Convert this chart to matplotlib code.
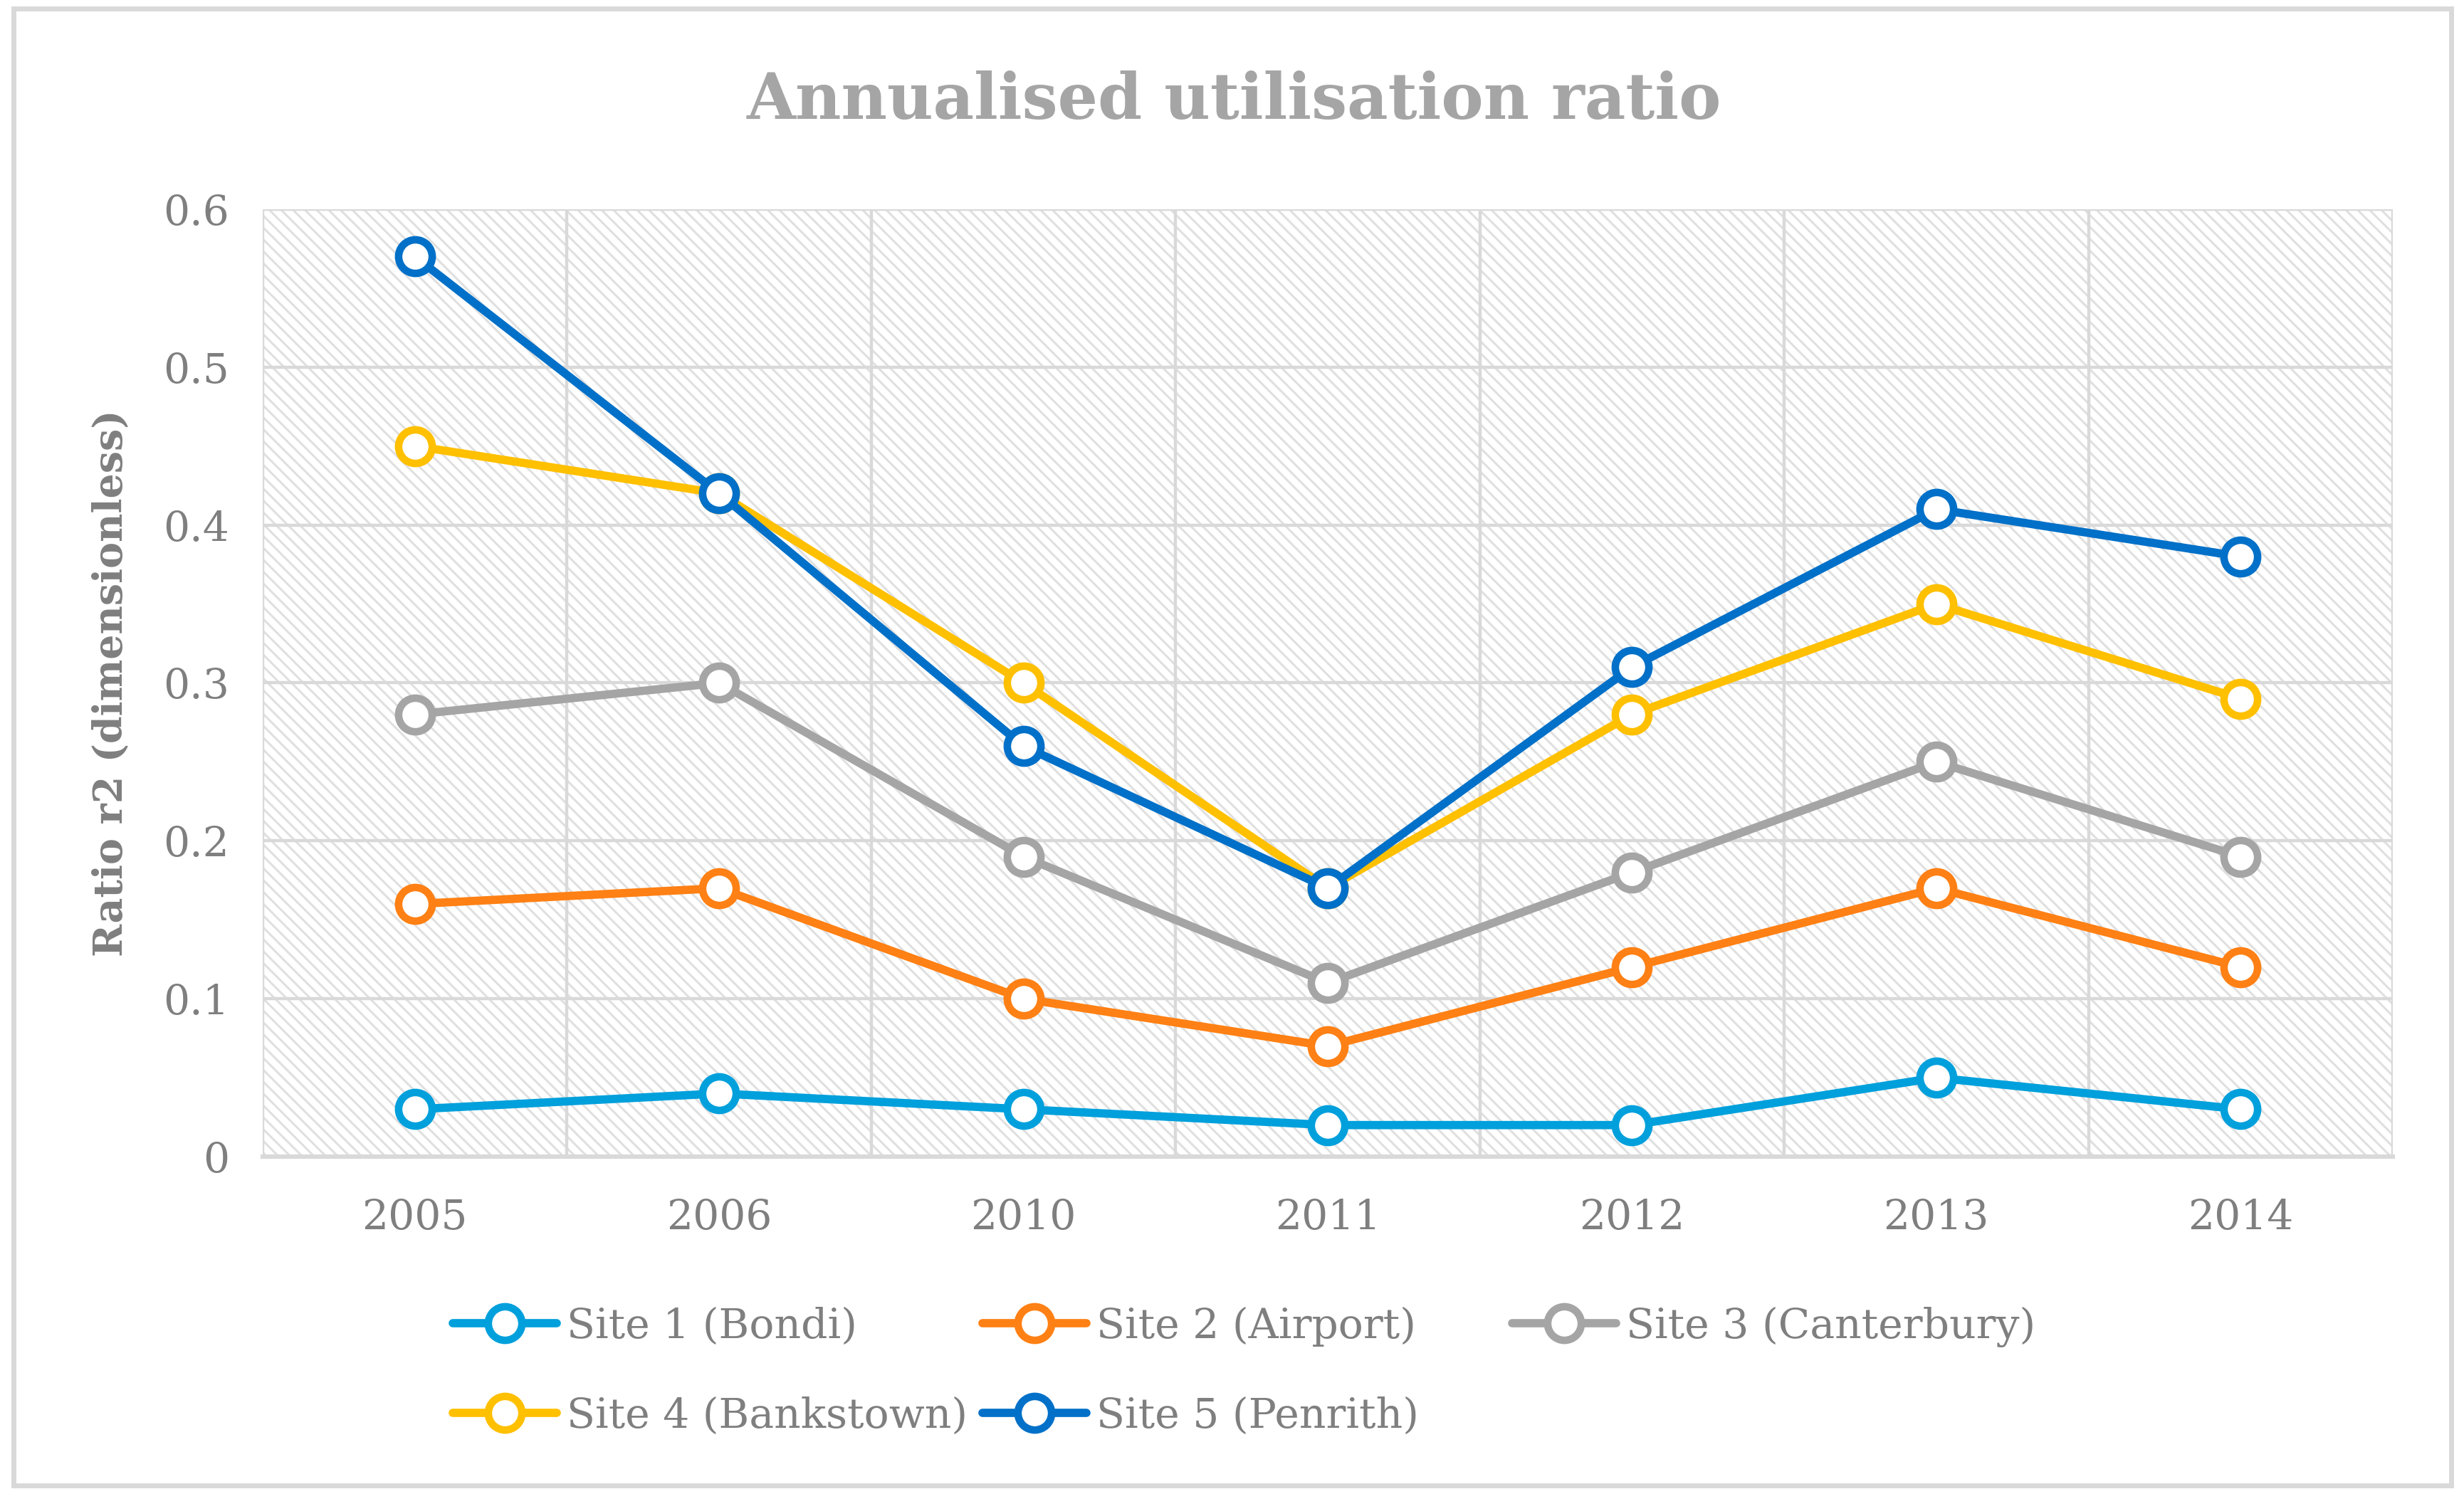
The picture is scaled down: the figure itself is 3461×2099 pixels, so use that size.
import numpy as np
import matplotlib
matplotlib.use('Agg')
import matplotlib.pyplot as plt
from matplotlib.patches import Rectangle

years = ['2005', '2006', '2010', '2011', '2012', '2013', '2014']
site_names = ['Site 1 (Bondi)', 'Site 2 (Airport)', 'Site 3 (Canterbury)',
              'Site 4 (Bankstown)', 'Site 5 (Penrith)']
site1 = [0.03, 0.04, 0.03, 0.02, 0.02, 0.05, 0.03]
site2 = [0.16, 0.17, 0.10, 0.07, 0.12, 0.17, 0.12]
site3 = [0.28, 0.30, 0.19, 0.11, 0.18, 0.25, 0.19]
site4 = [0.45, 0.42, 0.30, 0.17, 0.28, 0.35, 0.29]
site5 = [0.57, 0.42, 0.26, 0.17, 0.31, 0.41, 0.38]
colors = ['#00A0DC', '#FF8014', '#A5A5A5', '#FFC000', '#0070C8']
yticks = [0, 0.1, 0.2, 0.3, 0.4, 0.5, 0.6]
ytick_labels = ['0', '0.1', '0.2', '0.3', '0.4', '0.5', '0.6']

plt.rcParams['font.family'] = ['DejaVu Serif']
plt.rcParams['hatch.linewidth'] = 1.1

text_gray = '#7F7F7F'
grid_gray = '#D9D9D9'
fs = 21

fig = plt.figure(figsize=(17.31, 10.495), dpi=200)
ax = fig.add_axes([0.1066, 0.2258, 0.9708 - 0.1066, 0.860 - 0.2258])

# hatched plot area
ax.patch.set_visible(False)
bg = Rectangle((0, 0), 1, 1, transform=ax.transAxes, facecolor='white',
               edgecolor='#E0E0E0', hatch='\\\\\\\\', lw=0, zorder=0)
ax.add_patch(bg)

x = np.arange(len(years))
handles = []
for vals, name, c in zip([site1, site2, site3, site4, site5], site_names, colors):
    h, = ax.plot(x, vals, color=c, lw=4.2, marker='o', ms=17, mew=3.8,
                 mfc='white', mec=c, label=name, zorder=3, solid_capstyle='round')
    handles.append(h)

ax.set_xlim(-0.5, len(years) - 0.5)
ax.set_ylim(0, 0.6)
ax.set_xticks(x)
ax.set_xticklabels(years)
ax.set_yticks(yticks)
ax.set_yticklabels(ytick_labels)
ax.set_xticks(np.arange(len(years) + 1) - 0.5, minor=True)

ax.grid(True, axis='y', which='major', color=grid_gray, lw=1.6, zorder=1)
ax.grid(True, axis='x', which='minor', color=grid_gray, lw=1.6, zorder=1)
ax.grid(False, axis='x', which='major')
ax.set_axisbelow(True)

for s in ['top', 'left', 'right']:
    ax.spines[s].set_visible(False)
ax.spines['bottom'].set_color(grid_gray)
ax.spines['bottom'].set_linewidth(2.2)

ax.tick_params(axis='both', which='both', length=0, labelsize=fs, labelcolor=text_gray)
ax.tick_params(axis='x', pad=21)
ax.tick_params(axis='y', pad=17)

ax.set_ylabel('Ratio r2 (dimensionless)', fontsize=20, fontweight='bold', color=text_gray)
ax.yaxis.set_label_coords(-0.062, 0.5)

fig.text(0.5006, 0.932, 'Annualised utilisation ratio', ha='center', va='center',
         fontsize=32, fontweight='bold', color='#A5A5A5')

# legend, three columns of fixed width like the original
columns = [[0, 3], [1, 4], [2]]
col_x = [0.1837, 0.3986, 0.6135]
for idx, cx in zip(columns, col_x):
    leg = fig.legend(handles=[handles[i] for i in idx], loc='upper left',
                     bbox_to_anchor=(cx, 0.1255), frameon=False, fontsize=fs,
                     handlelength=2.5, handletextpad=0.25, labelspacing=1.2,
                     borderpad=0, borderaxespad=0)
    for t in leg.get_texts():
        t.set_color(text_gray)

# outer chart border
fig.patches.append(Rectangle((0.0055, 0.0055), 0.989, 0.989, transform=fig.transFigure,
                             fill=False, edgecolor=grid_gray, lw=2.5))

fig.savefig('out.png', dpi=200)
